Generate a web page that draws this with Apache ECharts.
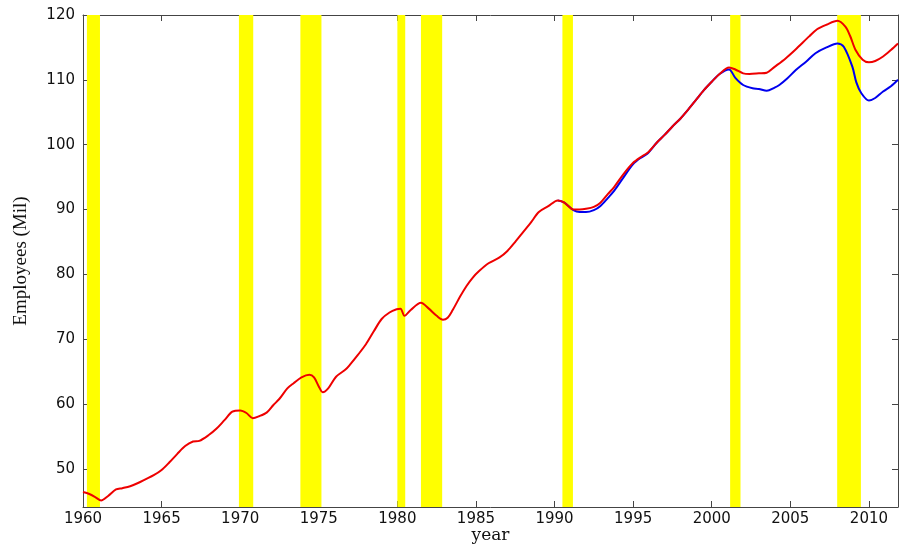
<!DOCTYPE html>
<html>
<head>
<meta charset="utf-8">
<script src="https://cdn.jsdelivr.net/npm/echarts@6/dist/echarts.min.js"></script>
<style>html,body{margin:0;padding:0;background:#fff;overflow:hidden}#c{width:899px;height:546px}</style>
</head>
<body>
<div id="c"></div>
<script>
const recessionStart = [1960.25, 1969.92, 1973.83, 1980.0, 1981.5, 1990.5, 2001.17, 2007.98];
const recessionEnd   = [1961.08, 1970.83, 1975.17, 1980.5, 1982.85, 1991.17, 2001.83, 2009.49];
const xTicks = [1960, 1965, 1970, 1975, 1980, 1985, 1990, 1995, 2000, 2005, 2010];
const yTicks = [50, 60, 70, 80, 90, 100, 110, 120];

const redYears = [1960.0,1960.4,1960.8,1961.15,1961.6,1962.1,1962.5,1963.0,1963.5,1964.0,1964.5,1965.0,1965.5,1966.0,1966.5,1967.0,1967.4,1968.0,1968.5,1969.0,1969.5,1970.0,1970.4,1970.8,1971.2,1971.7,1972.1,1972.5,1973.0,1973.4,1973.9,1974.4,1974.7,1975.0,1975.25,1975.6,1976.1,1976.7,1977.0,1977.5,1978.0,1978.5,1979.0,1979.5,1979.95,1980.2,1980.45,1980.85,1981.5,1982.0,1982.5,1982.9,1983.2,1983.5,1984.0,1984.4,1984.8,1985.2,1985.8,1986.5,1987.0,1987.5,1988.0,1988.5,1989.0,1989.6,1990.2,1990.6,1991.2,1991.6,1992.0,1992.5,1992.9,1993.4,1993.8,1994.4,1995.0,1995.5,1995.9,1996.5,1997.0,1997.5,1998.0,1998.5,1999.0,1999.5,2000.0,2000.5,2001.1,2001.5,2002.0,2002.4,2003.0,2003.5,2004.0,2004.7,2005.3,2006.2,2006.7,2007.3,2008.0,2008.5,2008.8,2009.15,2009.6,2010.0,2010.4,2010.9,2011.4,2011.85];
const redValues = [46.4,46.1,45.6,45.1,45.8,46.8,47.0,47.3,47.8,48.4,49.0,49.8,51.0,52.3,53.5,54.2,54.3,55.2,56.2,57.5,58.8,59.0,58.6,57.8,58.1,58.7,59.8,60.8,62.4,63.2,64.1,64.5,64.1,62.7,61.8,62.4,64.2,65.3,66.1,67.6,69.2,71.2,73.1,74.1,74.6,74.7,73.6,74.5,75.6,74.7,73.6,73.0,73.3,74.4,76.6,78.2,79.5,80.5,81.7,82.6,83.6,85.0,86.5,88.0,89.6,90.5,91.4,91.1,90.0,90.0,90.1,90.4,91.0,92.4,93.5,95.5,97.2,98.1,98.7,100.3,101.5,102.8,104.0,105.4,106.9,108.4,109.7,110.9,111.9,111.6,111.0,110.9,111.0,111.1,112.0,113.3,114.6,116.7,117.8,118.5,119.1,118.2,116.8,114.6,113.1,112.7,112.9,113.6,114.6,115.6];

const blueYears = [1990.2,1990.6,1991.2,1991.6,1992.0,1992.5,1992.9,1993.4,1993.8,1994.4,1995.0,1995.5,1995.9,1996.5,1997.0,1997.5,1998.0,1998.5,1999.0,1999.5,2000.0,2000.5,2001.1,2001.5,2002.0,2002.6,2003.0,2003.5,2004.0,2004.3,2004.8,2005.35,2006.0,2006.6,2007.3,2008.0,2008.4,2008.95,2009.2,2009.5,2010.0,2010.4,2010.9,2011.4,2011.85];
const blueValues = [91.4,91.1,89.9,89.6,89.6,89.9,90.5,91.8,92.9,95.0,97.0,98.0,98.6,100.3,101.5,102.8,104.0,105.4,106.9,108.4,109.7,110.9,111.6,110.3,109.2,108.7,108.6,108.3,108.8,109.2,110.2,111.5,112.8,114.1,115.0,115.6,115.1,112.0,109.6,108.0,106.8,107.2,108.2,109.0,110.0];

const pair = (xs, ys) => xs.map((x, i) => [x, ys[i]]);
const bands = recessionStart.map((s, i) => [{xAxis: s}, {xAxis: recessionEnd[i]}]);

const XMIN = 1960, XMAX = 2011.85, YMIN = 44.1, YMAX = 120;
const axisColor = '#444';
const tickFont = {fontFamily: 'DejaVu Sans, sans-serif', fontSize: 15, color: '#111'};

const chart = echarts.init(document.getElementById('c'), null, {renderer: 'canvas'});
chart.setOption({
  animation: false,
  backgroundColor: '#fff',
  grid: {left: 83, top: 15, right: 1, bottom: 39, containLabel: false, outerBoundsMode: 'none'},
  xAxis: [{
    type: 'value', min: XMIN, max: XMAX, position: 'bottom',
    name: 'year', nameLocation: 'middle', nameGap: 20, nameMoveOverlap: false,
    nameTextStyle: {fontFamily: 'DejaVu Serif, serif', fontSize: 17, color: '#111'},
    axisLine: {show: true, onZero: false, lineStyle: {color: axisColor, width: 1}},
    axisTick: {show: true, inside: true, length: 6, customValues: xTicks, lineStyle: {color: axisColor}},
    axisLabel: {show: true, customValues: xTicks, margin: 5, formatter: v => String(v), ...tickFont},
    splitLine: {show: false}
  }, {
    type: 'value', min: XMIN, max: XMAX, position: 'top',
    axisLine: {show: true, onZero: false, lineStyle: {color: axisColor, width: 1}},
    axisTick: {show: true, inside: true, length: 6, customValues: xTicks, lineStyle: {color: axisColor}},
    axisLabel: {show: false}, splitLine: {show: false}
  }],
  yAxis: [{
    type: 'value', min: YMIN, max: YMAX, position: 'left',
    name: 'Employees (Mil)', nameLocation: 'middle', nameGap: 52, nameRotate: 90, nameMoveOverlap: false,
    nameTextStyle: {fontFamily: 'Liberation Serif, Times New Roman, serif', fontSize: 19, color: '#111'},
    axisLine: {show: true, onZero: false, lineStyle: {color: axisColor, width: 1}},
    axisTick: {show: true, inside: true, length: 6, customValues: yTicks, lineStyle: {color: axisColor}},
    axisLabel: {show: true, customValues: yTicks, margin: 8, ...tickFont},
    splitLine: {show: false}
  }, {
    type: 'value', min: YMIN, max: YMAX, position: 'right',
    axisLine: {show: true, onZero: false, lineStyle: {color: axisColor, width: 1}},
    axisTick: {show: true, inside: true, length: 6, customValues: yTicks, lineStyle: {color: axisColor}},
    axisLabel: {show: false}, splitLine: {show: false}
  }],
  series: [{
    type: 'line', data: [], z: 1, silent: true,
    markArea: {silent: true, itemStyle: {color: '#ffff00', opacity: 1}, data: bands}
  }, {
    name: 'blue', type: 'line', data: pair(blueYears, blueValues), z: 3,
    showSymbol: false, smooth: 0.3, lineStyle: {color: '#0000ee', width: 2}
  }, {
    name: 'red', type: 'line', data: pair(redYears, redValues), z: 4,
    showSymbol: false, smooth: 0.3, lineStyle: {color: '#ee0000', width: 2}
  }]
});
</script>
</body>
</html>
